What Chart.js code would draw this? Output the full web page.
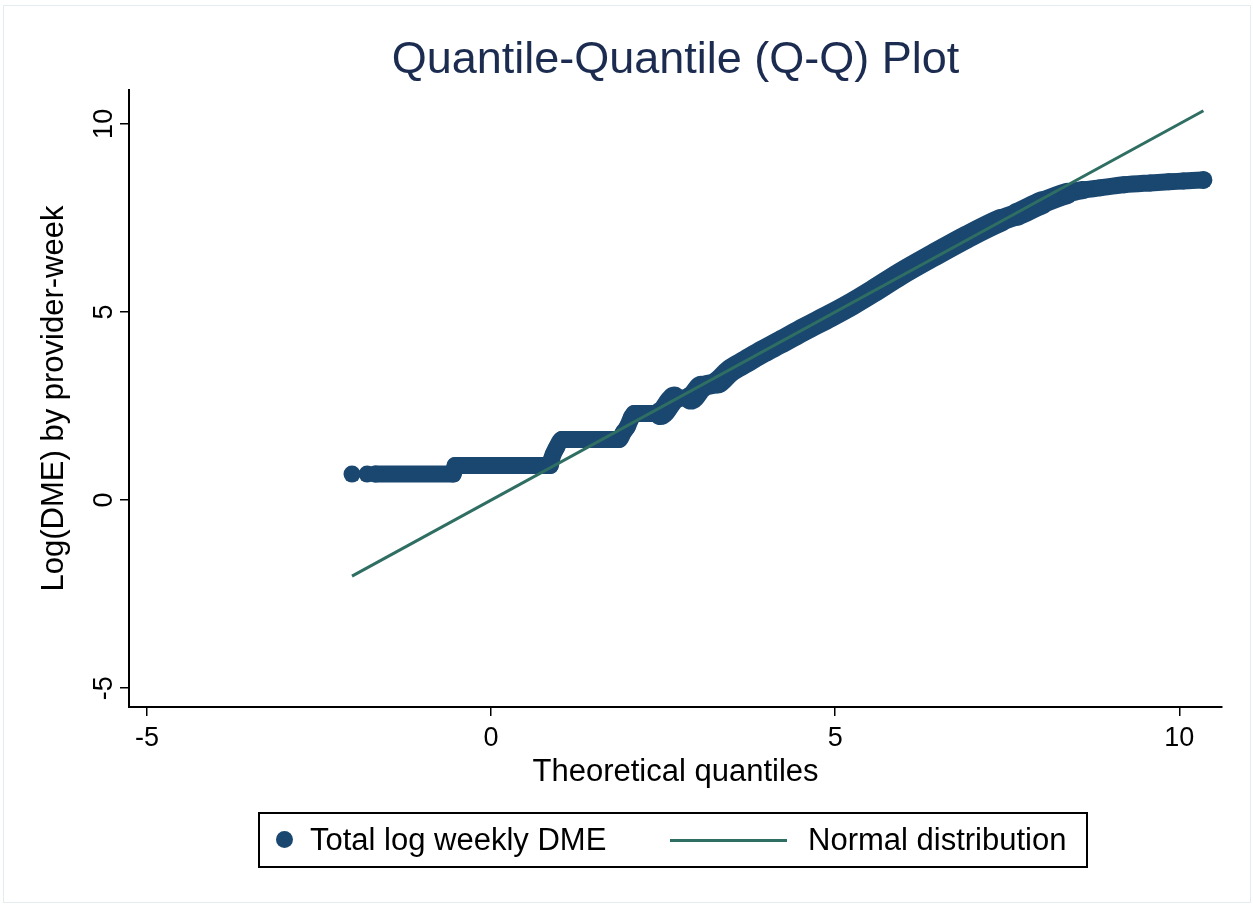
<!DOCTYPE html>
<html>
<head>
<meta charset="utf-8">
<script src="https://cdn.jsdelivr.net/npm/chart.js@4.4.1/dist/chart.umd.min.js"></script>
<style>
  html, body { margin: 0; padding: 0; background: #fff; }
  #wrap { position: relative; width: 1253px; height: 905px; overflow: hidden; }
  #frame { position: absolute; left: 3px; top: 5px; width: 1246px; height: 896px; border: 1px solid #e3ecef; pointer-events: none; }
  #legend { position: absolute; left: 258px; top: 812px; width: 826px; height: 52px; border: 2px solid #000;
            font-family: "Liberation Sans", Arial, sans-serif; font-size: 31px; color: #000; }
  #legend .item { position: absolute; top: 0; height: 52px; line-height: 52px; white-space: nowrap; }
  #legend .dot { position: absolute; width: 17px; height: 17px; border-radius: 50%; top: 17px; }
  #legend .line { position: absolute; height: 3px; top: 25px; }
</style>
</head>
<body>
<div id="wrap">
  <canvas id="qq" width="1253" height="905"></canvas>
  <div id="frame"></div>
  <div id="legend"></div>
</div>
<script>
const TITLE = "Quantile-Quantile (Q-Q) Plot";
const X_TITLE = "Theoretical quantiles";
const Y_TITLE = "Log(DME) by provider-week";
const X_TICKS = [-5, 0, 5, 10];
const Y_TICKS = [-5, 0, 5, 10];
const X_RANGE = [-5.26, 10.62];
const Y_RANGE = [-5.5, 10.9];

const OBS_LABEL = "Total log weekly DME";
const obsX = [-2.02, -1.80, -1.68, -0.55, -0.52, 0.86, 0.88, 0.95, 1.03, 1.86,
              1.92, 1.98, 2.04, 2.08, 2.46, 2.62, 2.66, 2.90, 3.05, 3.30,
              3.47, 3.70, 3.95, 4.20, 4.55, 4.93, 5.25, 5.55, 5.94, 6.42,
              6.92, 7.40, 7.65, 8.00, 8.37, 8.60, 8.85, 9.20, 9.58, 9.85,
              10.06, 10.35];
const obsY = [0.69, 0.69, 0.69, 0.69, 0.92, 0.92, 1.10, 1.39, 1.61, 1.61,
              1.79, 1.95, 2.20, 2.30, 2.30, 2.64, 2.71, 2.71, 3.00, 3.14,
              3.43, 3.68, 3.95, 4.19, 4.54, 4.90, 5.22, 5.55, 6.00, 6.50,
              7.00, 7.43, 7.60, 7.90, 8.15, 8.24, 8.30, 8.38, 8.43, 8.46,
              8.48, 8.51];

const NORM_LABEL = "Normal distribution";
const normX = [-2.02, 10.35];
const normY = [-2.02, 10.35];

const NAVY = "#1a476f";
const GREEN = "#2f6e62";
const TITLE_COLOR = "#1c2b50";
const FONT = "'Liberation Sans', Arial, sans-serif";

const toPts = (xs, ys) => xs.map((x, i) => ({ x, y: ys[i] }));

// band is thicker where it climbs, thin on the flat runs
function bandWidth(ctx){
  const dx = Math.abs(ctx.p1.x - ctx.p0.x), dy = Math.abs(ctx.p1.y - ctx.p0.y);
  const s = dx ? dy / dx : 99;
  if (s > 1.2) return 17;
  return 17 + 6 * Math.max(0, Math.min(1, (s - 0.15) / 0.3));
}

const titlePlugin = {
  id: "qqTitle",
  afterDraw(chart){
    const { ctx, chartArea } = chart;
    ctx.save();
    ctx.font = "45px " + FONT;
    ctx.fillStyle = TITLE_COLOR;
    ctx.textAlign = "center";
    ctx.textBaseline = "alphabetic";
    ctx.fillText(TITLE, (chartArea.left + chartArea.right) / 2, 73);
    ctx.restore();
  }
};

// Stata style: y tick labels turned on their side
const yTickPlugin = {
  id: "rotYTicks",
  afterDraw(chart){
    const s = chart.scales.y, ctx = chart.ctx;
    ctx.save();
    ctx.font = "27px " + FONT;
    ctx.fillStyle = "#000";
    ctx.textAlign = "center";
    ctx.textBaseline = "alphabetic";
    for (const t of s.ticks){
      const py = s.getPixelForValue(t.value);
      ctx.save();
      ctx.translate(s.right - 17, py);
      ctx.rotate(-Math.PI / 2);
      ctx.fillText(String(t.value), 0, 0);
      ctx.restore();
    }
    ctx.restore();
  }
};

const axisCommon = {
  type: "linear",
  grid: { display: true, drawOnChartArea: false, drawTicks: true, tickLength: 9, color: "#000", lineWidth: 1.5 },
  border: { display: true, color: "#000", width: 2 },
};

const chart = new Chart(document.getElementById("qq"), {
  type: "scatter",
  data: {
    datasets: [
      {
        label: NORM_LABEL,
        data: toPts(normX, normY),
        showLine: true,
        borderColor: GREEN,
        backgroundColor: GREEN,
        borderWidth: 3,
        pointRadius: 0,
        order: 0
      },
      {
        label: OBS_LABEL,
        data: toPts(obsX, obsY),
        showLine: true,
        cubicInterpolationMode: "monotone",
        borderColor: NAVY,
        backgroundColor: NAVY,
        borderWidth: 17,
        borderCapStyle: "round",
        borderJoinStyle: "round",
        pointRadius: (c) => c.dataIndex === obsX.length - 1 ? 9 : 8.5,
        pointBorderWidth: 0,
        pointBackgroundColor: NAVY,
        segment: {
          borderWidth: bandWidth,
          borderColor: (c) => c.p0DataIndex < 2 ? "rgba(0,0,0,0)" : NAVY
        },
        order: 1
      }
    ]
  },
  options: {
    responsive: false,
    animation: false,
    devicePixelRatio: 1,
    layout: { padding: { top: 90, right: 31, bottom: 0, left: 0 } },
    plugins: {
      legend: { display: false },
      title: { display: false },
      tooltip: { enabled: false }
    },
    scales: {
      x: {
        ...axisCommon,
        position: "bottom",
        min: X_RANGE[0], max: X_RANGE[1],
        afterBuildTicks: (s) => { s.ticks = X_TICKS.map(v => ({ value: v })); },
        afterFit: (s) => { s.height = 905 - 707; },
        ticks: { color: "#000", font: { family: FONT, size: 27 }, padding: 6, maxRotation: 0 },
        title: { display: true, text: X_TITLE, color: "#000", font: { family: FONT, size: 31 }, padding: { top: 0, bottom: 114 } }
      },
      y: {
        ...axisCommon,
        position: "left",
        min: Y_RANGE[0], max: Y_RANGE[1],
        afterBuildTicks: (s) => { s.ticks = Y_TICKS.map(v => ({ value: v })); },
        afterFit: (s) => { s.width = 129; },
        ticks: { display: false },
        title: { display: true, text: Y_TITLE, color: "#000", font: { family: FONT, size: 31 }, padding: { top: 36, bottom: 0 } }
      }
    }
  },
  plugins: [titlePlugin, yTickPlugin]
});

// legend box, Stata style: marker sample is a dot, line sample is long
function buildLegend(ch){
  const box = document.getElementById("legend");
  const obs = ch.data.datasets[1], norm = ch.data.datasets[0];
  const html = [];
  html.push(`<span class="dot" style="left:16px;background:${obs.backgroundColor}"></span>`);
  html.push(`<span class="item" style="left:50px">${obs.label}</span>`);
  html.push(`<span class="line" style="left:410px;width:117px;background:${norm.borderColor}"></span>`);
  html.push(`<span class="item" style="left:548px">${norm.label}</span>`);
  box.innerHTML = html.join("");
}
buildLegend(chart);
</script>
</body>
</html>
